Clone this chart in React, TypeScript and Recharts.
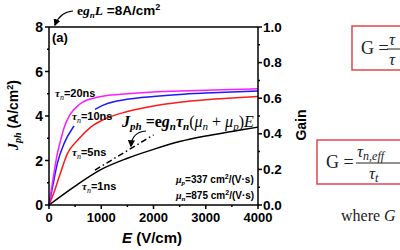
import { LineChart, Line, XAxis, YAxis, ReferenceLine } from "recharts"

// photocurrent density J_ph (A/cm²) vs field E (V/cm)
const tau20E = [0, 50, 100, 150, 200, 300, 400, 600, 850, 1050, 1500, 2000, 2500, 3000, 3500, 4000]
const tau20J = [0, 0.75, 1.5, 2.2, 2.7, 3.55, 4.05, 4.55, 4.8, 4.9, 5.0, 5.08, 5.12, 5.16, 5.19, 5.22]

const tau10E = [0, 100, 160, 290, 450, 480, 600, 880, 1050, 1500, 2000, 2500, 3000, 3500, 4000]
const tau10J: (number | null)[] = [0, 1.2, 1.87, 2.77, 3.45, 3.55, null, 4.3, 4.5, 4.75, 4.88, 4.97, 5.03, 5.08, 5.12]

const tau5E = [0, 100, 200, 350, 550, 800, 1050, 1500, 2000, 2500, 3000, 3500, 4000]
const tau5J = [0, 0.6, 1.3, 2.3, 2.92, 3.5, 3.85, 4.2, 4.45, 4.62, 4.73, 4.81, 4.88]

const tau1E = [0, 500, 1000, 1500, 2000, 2500, 3000, 3500, 4000]
const tau1J = [0, 0.85, 1.6, 2.1, 2.5, 2.85, 3.1, 3.3, 3.5]

const fitE = [880, 2000]
const fitJ = [1.57, 3.15]

// gain axis range (right axis), G = J_ph / 8
const gainE = [0, 4000]
const gainG = [0, 1]

const xTicks = [0, 500, 1000, 1500, 2000, 2500, 3000, 3500, 4000]
const yTicks = [0, 1, 2, 3, 4, 5, 6, 7, 8]
const gainTicks = [0, 0.1, 0.2, 0.3, 0.4, 0.5, 0.6, 0.7, 0.8, 0.9, 1.0]

const toRows = (es: number[], js: (number | null)[]) => es.map((E, i) => ({ E, J: js[i] }))

const SANS = "'Liberation Sans', Arial, sans-serif"
const SERIF = "'Liberation Serif', 'DejaVu Serif', serif"
const RED_BOX = "#e0474c"

// eslint-disable-next-line @typescript-eslint/no-explicit-any
function XTick({ x, y, payload }: any) {
  const v = payload.value as number
  const major = v % 1000 === 0
  return (
    <g>
      <line x1={x} x2={x} y1={y} y2={y + (major ? 4 : 2)} stroke="#000" strokeWidth={1.5} />
      {major && (
        <text x={x} y={y + 17} textAnchor="middle" fontFamily={SANS} fontWeight="bold" fontSize={13} fill="#000">
          {v}
        </text>
      )}
    </g>
  )
}

// eslint-disable-next-line @typescript-eslint/no-explicit-any
function LeftTick({ x, y, payload }: any) {
  const v = payload.value as number
  const major = v % 2 === 0
  return (
    <g>
      <line x1={x} x2={x - (major ? 4 : 2)} y1={y} y2={y} stroke="#000" strokeWidth={1.5} />
      {major && (
        <text x={x - 6} y={y + 5} textAnchor="end" fontFamily={SANS} fontWeight="bold" fontSize={14} fill="#000">
          {v}
        </text>
      )}
    </g>
  )
}

// eslint-disable-next-line @typescript-eslint/no-explicit-any
function RightTick({ x, y, payload }: any) {
  const v = payload.value as number
  const major = Math.round(v * 10) % 2 === 0
  return (
    <g>
      <line x1={x} x2={x + (major ? 4 : 2)} y1={y} y2={y} stroke="#000" strokeWidth={1.5} />
      {major && (
        <text x={x + 5} y={y + 4.5} textAnchor="start" fontFamily={SANS} fontWeight="bold" fontSize={13.5} fill="#000">
          {v.toFixed(1)}
        </text>
      )}
    </g>
  )
}

function Tau({ x, y, label }: { x: number; y: number; label: string }) {
  return (
    <text x={x} y={y} fontSize={11} fill="#000">
      <tspan fontFamily={SERIF} fontStyle="italic" fontWeight="bold">τ</tspan>
      <tspan fontFamily={SERIF} fontStyle="italic" fontSize={8} dy={3}>n</tspan>
      <tspan fontFamily={SANS} fontWeight="bold" dy={-3}>={label}</tspan>
    </text>
  )
}

function Annotations() {
  return (
    <svg width={400} height={250} style={{ position: "absolute", left: 0, top: 0, pointerEvents: "none" }}>
      <defs>
        <marker id="ah" viewBox="0 0 10 10" refX="8" refY="5" markerWidth="6" markerHeight="6" orient="auto">
          <path d="M0,0 L10,5 L0,10 z" fill="#000" />
        </marker>
      </defs>

      {/* top note */}
      <text x={77} y={15} fontSize={13.5} fill="#000" fontWeight="bold">
        <tspan fontFamily={SERIF}>e</tspan>
        <tspan fontFamily={SERIF} fontStyle="italic">g</tspan>
        <tspan fontFamily={SERIF} fontStyle="italic" fontSize={9} dy={3}>n</tspan>
        <tspan fontFamily={SERIF} fontStyle="italic" dy={-3}>L</tspan>
        <tspan fontFamily={SANS}> =8A/cm</tspan>
        <tspan fontFamily={SANS} fontSize={9} dy={-5}>2</tspan>
      </text>
      <path d="M73,11 Q60,12 55,25" fill="none" stroke="#000" strokeWidth={1.2} markerEnd="url(#ah)" />

      <text x={52} y={42} fontFamily={SANS} fontWeight="bold" fontSize={13} fill="#000">(a)</text>

      <Tau x={55} y={97} label="20ns" />
      <Tau x={72} y={120} label="10ns" />
      <Tau x={72} y={156} label="5ns" />
      <Tau x={82} y={190} label="1ns" />

      {/* formula */}
      <text x={122} y={127} fontSize={16} fill="#000" fontFamily={SERIF} fontStyle="italic">
        <tspan fontWeight="bold">J</tspan>
        <tspan fontWeight="bold" fontSize={11} dy={3}>ph</tspan>
        <tspan fontWeight="bold" fontStyle="normal" dy={-3}> =e</tspan>
        <tspan fontWeight="bold">g</tspan>
        <tspan fontWeight="bold" fontSize={11} dy={3}>n</tspan>
        <tspan fontWeight="bold" dy={-3}>τ</tspan>
        <tspan fontWeight="bold" fontSize={11} dy={3}>n</tspan>
        <tspan fontStyle="normal" dy={-3}>(</tspan>
        <tspan>μ</tspan>
        <tspan fontSize={11} dy={3}>n</tspan>
        <tspan fontStyle="normal" dy={-3}> + </tspan>
        <tspan>μ</tspan>
        <tspan fontSize={11} dy={3}>p</tspan>
        <tspan fontStyle="normal" dy={-3}>)</tspan>
        <tspan>E</tspan>
      </text>
      <path d="M146,131 Q132,132 131,146" fill="none" stroke="#000" strokeWidth={1.2} markerEnd="url(#ah)" />

      <text x={176} y={183} fontSize={10} fill="#000" fontWeight="bold">
        <tspan fontFamily={SERIF} fontStyle="italic">μ</tspan>
        <tspan fontFamily={SERIF} fontStyle="italic" fontSize={7} dy={2}>p</tspan>
        <tspan fontFamily={SANS} dy={-2}>=337 cm</tspan>
        <tspan fontFamily={SANS} fontSize={7} dy={-4}>2</tspan>
        <tspan fontFamily={SANS} dy={4}>/(V·s)</tspan>
      </text>
      <text x={176} y={199} fontSize={10} fill="#000" fontWeight="bold">
        <tspan fontFamily={SERIF} fontStyle="italic">μ</tspan>
        <tspan fontFamily={SERIF} fontStyle="italic" fontSize={7} dy={2}>n</tspan>
        <tspan fontFamily={SANS} dy={-2}>=875 cm</tspan>
        <tspan fontFamily={SANS} fontSize={7} dy={-4}>2</tspan>
        <tspan fontFamily={SANS} dy={4}>/(V·s)</tspan>
      </text>

      {/* axis titles */}
      <text transform="rotate(-90 18 115)" x={18} y={115} textAnchor="middle" fontSize={14} fontWeight="bold" fill="#000">
        <tspan fontFamily={SERIF} fontStyle="italic">J</tspan>
        <tspan fontFamily={SERIF} fontStyle="italic" fontSize={10} dy={3}>ph</tspan>
        <tspan fontFamily={SANS} dy={-3}> (A/cm</tspan>
        <tspan fontFamily={SANS} fontSize={9} dy={-5}>2</tspan>
        <tspan fontFamily={SANS} dy={5}>)</tspan>
      </text>
      <text x={152} y={243} textAnchor="middle" fontSize={15} fontWeight="bold" fill="#000" fontFamily={SANS}>
        <tspan fontStyle="italic">E</tspan>
        <tspan> (V/cm)</tspan>
      </text>
      <text transform="rotate(-90 306 125)" x={306} y={125} textAnchor="middle" fontSize={14} fontWeight="bold" fill="#000" fontFamily={SANS}>
        Gain
      </text>

      {/* side equations */}
      <rect x={352} y={26} width={60} height={44} fill="none" stroke={RED_BOX} strokeWidth={1.5} />
      <text x={361} y={54} fontFamily={SERIF} fontSize={18} fill="#222">G =</text>
      <text x={389} y={45} fontFamily={SERIF} fontSize={17} fontStyle="italic" fill="#222">τ</text>
      <line x1={387} x2={402} y1={49} y2={49} stroke="#222" strokeWidth={1} />
      <text x={389} y={65} fontFamily={SERIF} fontSize={17} fontStyle="italic" fill="#222">τ</text>

      <rect x={317} y={140} width={95} height={44} fill="none" stroke={RED_BOX} strokeWidth={1.5} />
      <text x={326} y={168} fontFamily={SERIF} fontSize={18} fill="#222">G =</text>
      <text x={357} y={157} fontFamily={SERIF} fontSize={17} fontStyle="italic" fill="#222">
        <tspan>τ</tspan>
        <tspan fontSize={12} dy={3}>n,eff</tspan>
      </text>
      <line x1={356} x2={402} y1={163} y2={163} stroke="#222" strokeWidth={1} />
      <text x={369} y={179} fontFamily={SERIF} fontSize={17} fontStyle="italic" fill="#222">
        <tspan>τ</tspan>
        <tspan fontSize={12} dy={3}>t</tspan>
      </text>

      <text x={341} y={221} fontFamily={SERIF} fontSize={16} fill="#222">
        where <tspan fontStyle="italic">G</tspan>
      </text>
    </svg>
  )
}

export default function App() {
  return (
    <div style={{ position: "absolute", left: 0, top: 0, width: 400, height: 250, background: "#fff" }}>
      <LineChart width={320} height={250} margin={{ top: 27, right: 0, left: 0, bottom: 0 }}>
        <XAxis
          type="number"
          dataKey="E"
          domain={[0, 4000]}
          ticks={xTicks}
          height={45}
          tickSize={0}
          tickMargin={0}
          tickLine={false}
          tick={<XTick />}
          axisLine={{ stroke: "#000", strokeWidth: 1.5 }}
          interval={0}
        />
        <YAxis
          yAxisId="j"
          type="number"
          domain={[0, 8]}
          ticks={yTicks}
          width={49}
          tickSize={0}
          tickMargin={0}
          tickLine={false}
          tick={<LeftTick />}
          axisLine={{ stroke: "#000", strokeWidth: 1.5 }}
          interval={0}
        />
        <YAxis
          yAxisId="g"
          orientation="right"
          type="number"
          domain={[0, 1]}
          ticks={gainTicks}
          width={62}
          tickSize={0}
          tickMargin={0}
          tickLine={false}
          tick={<RightTick />}
          axisLine={{ stroke: "#000", strokeWidth: 1.5 }}
          interval={0}
        />
        <ReferenceLine yAxisId="j" y={8} stroke="#000" strokeWidth={1.5} />
        <Line yAxisId="g" data={toRows(gainE, gainG)} dataKey="J" stroke="none" strokeWidth={0} dot={false} activeDot={false} isAnimationActive={false} />
        <Line yAxisId="j" data={toRows(tau1E, tau1J)} dataKey="J" type="monotone" stroke="#000" strokeWidth={1.5} dot={false} isAnimationActive={false} />
        <Line yAxisId="j" data={toRows(tau5E, tau5J)} dataKey="J" type="monotone" stroke="#ff1a1a" strokeWidth={1.5} dot={false} isAnimationActive={false} />
        <Line yAxisId="j" data={toRows(tau10E, tau10J)} dataKey="J" type="monotone" stroke="#1a1aff" strokeWidth={1.5} dot={false} isAnimationActive={false} />
        <Line yAxisId="j" data={toRows(tau20E, tau20J)} dataKey="J" type="monotone" stroke="#ff1aff" strokeWidth={1.5} dot={false} isAnimationActive={false} />
        <Line yAxisId="j" data={toRows(fitE, fitJ)} dataKey="J" type="linear" stroke="#000" strokeWidth={1.5} strokeDasharray="6 3 1.5 3" dot={false} isAnimationActive={false} />
      </LineChart>
      <Annotations />
    </div>
  )
}
